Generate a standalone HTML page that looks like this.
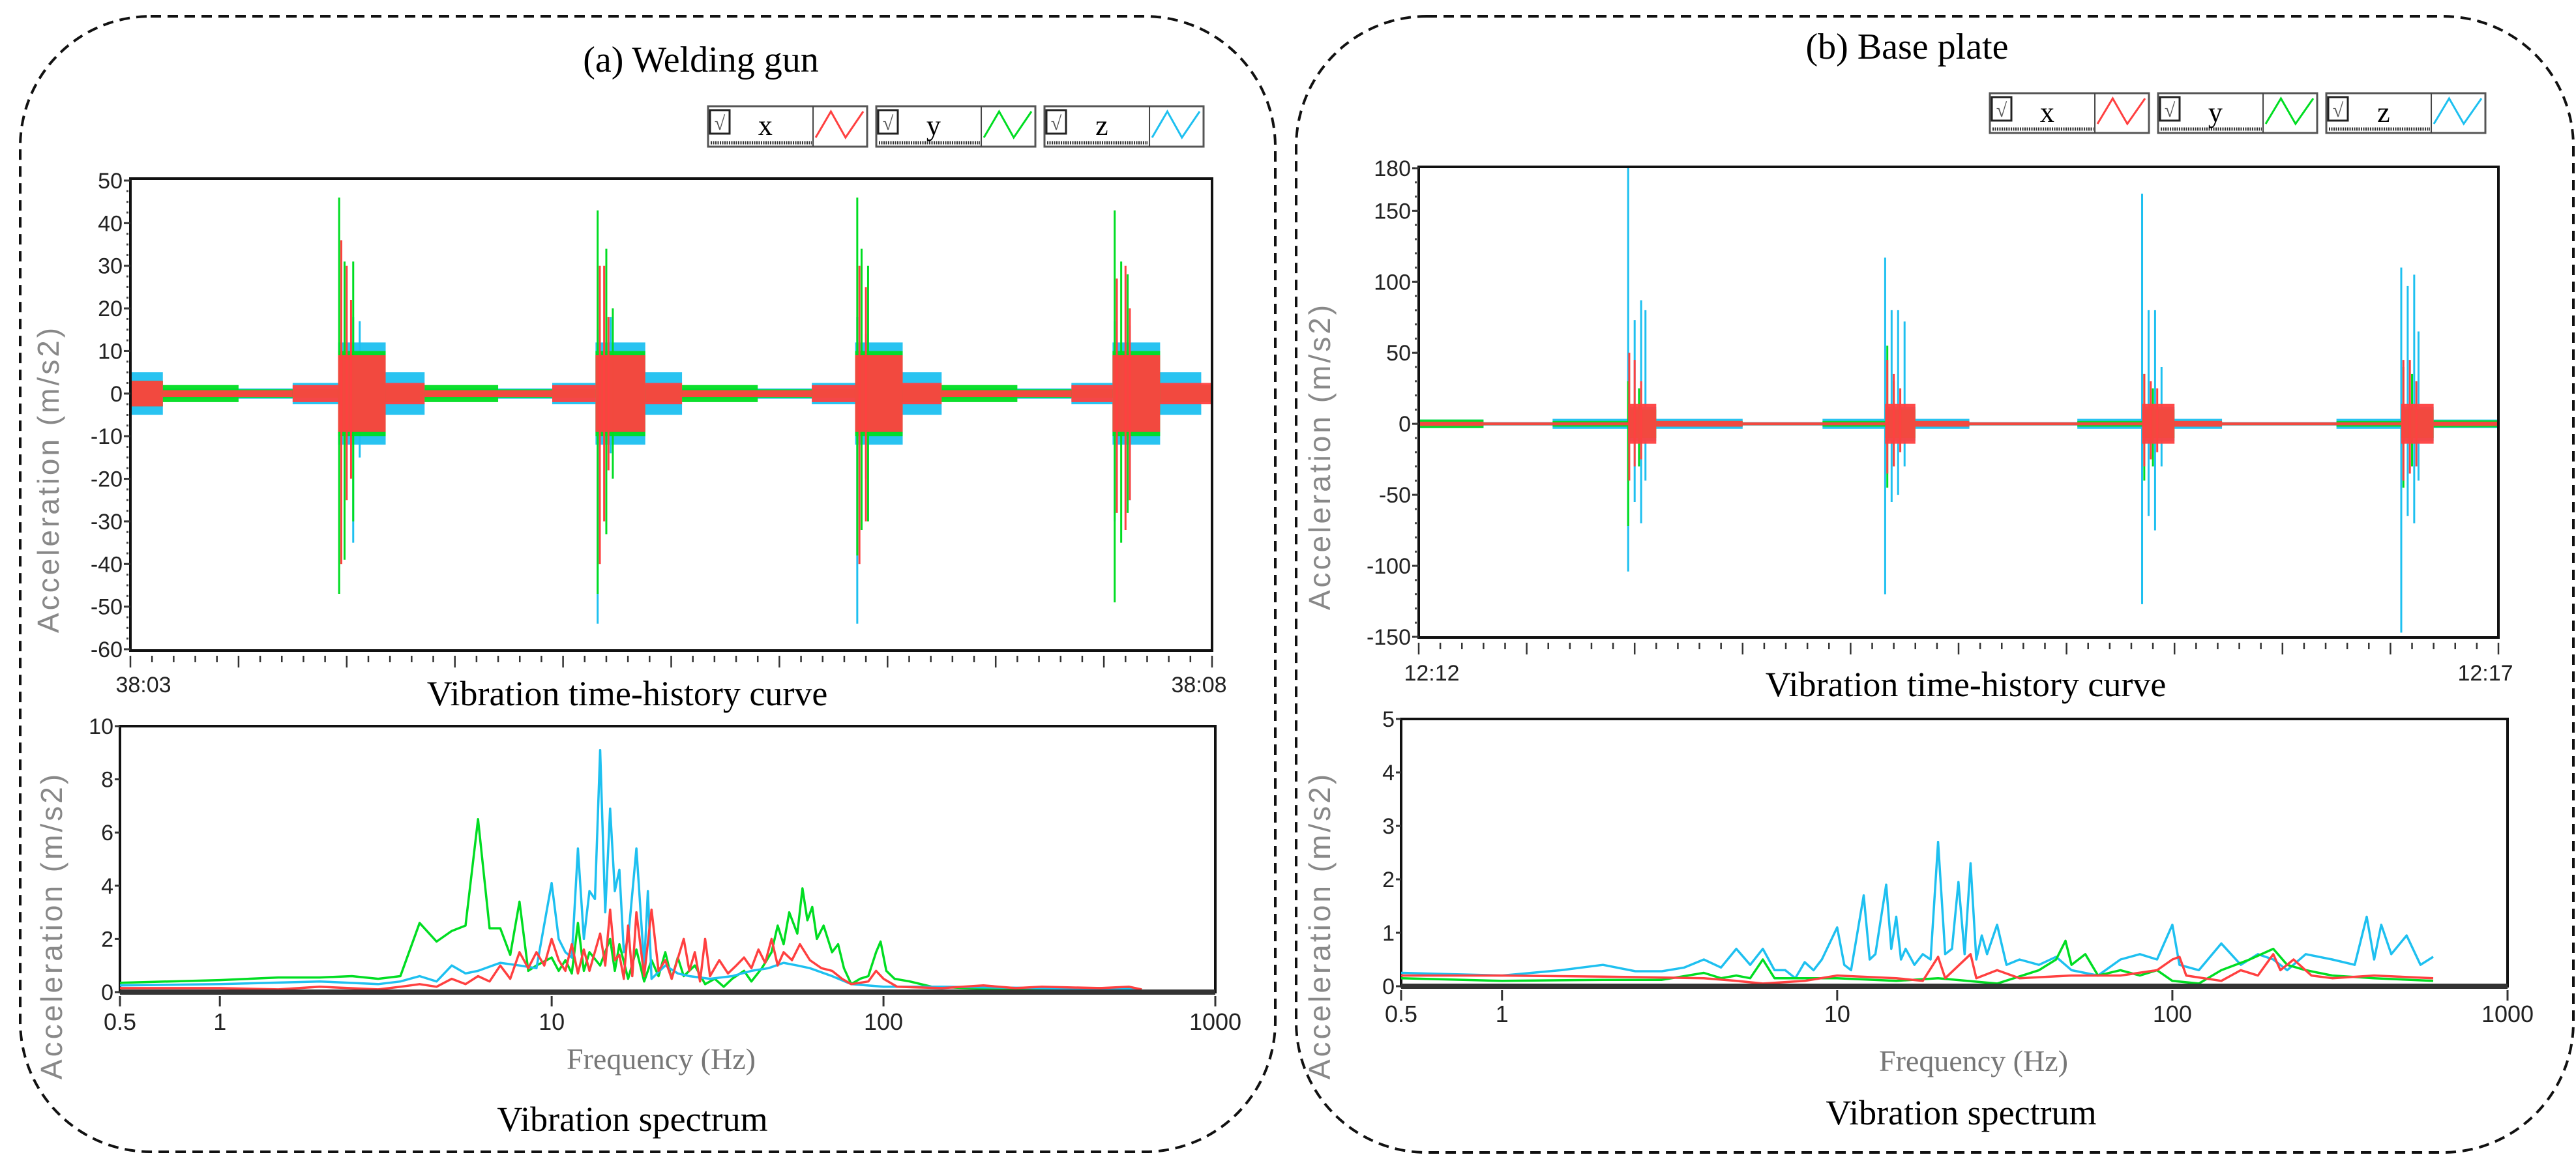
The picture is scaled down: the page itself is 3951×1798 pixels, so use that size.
<!DOCTYPE html>
<html><head><meta charset="utf-8">
<style>
html,body{margin:0;padding:0;background:#fff;}
svg{display:block;}
.serif{font-family:"Liberation Serif",serif;}
.narrow{font-family:"Liberation Sans Narrow","Liberation Sans",sans-serif;}
</style></head>
<body>
<svg id="fig" width="3951" height="1798" viewBox="0 0 3951 1798" xmlns="http://www.w3.org/2000/svg">
  <rect x="0" y="0" width="3951" height="1798" fill="#fff"/>
  <rect x="31" y="25" width="1925" height="1742" rx="200" ry="200" fill="none" stroke="#111" stroke-width="4" stroke-dasharray="16,10"/>
  <rect x="1988" y="25" width="1959" height="1743" rx="200" ry="200" fill="none" stroke="#111" stroke-width="4" stroke-dasharray="16,10"/>
  <text class="serif" x="1075" y="110" font-size="56" text-anchor="middle" fill="#000">(a) Welding gun</text>
  <text class="serif" x="2925" y="90" font-size="56" text-anchor="middle" fill="#000">(b) Base plate</text>
  <g id="layer"></g>
</svg>
<script>
// ---------- DATA ----------
const aTimeDomain = [0, 5];
const aTimeTicks = [50, 40, 30, 20, 10, 0, -10, -20, -30, -40, -50, -60];
const aTimeLabels = ["38:03", "38:08"];
const aZSeg = [[0,0.15,5],[0.15,0.75,1.2],[0.75,0.96,2.5],[0.96,1.18,12],[1.18,1.36,5],[1.36,1.95,1.2],[1.95,2.15,2.5],[2.15,2.38,12],[2.38,2.55,5],[2.55,3.15,1.2],[3.15,3.35,2.5],[3.35,3.57,12],[3.57,3.75,5],[3.75,4.35,1.2],[4.35,4.54,2.5],[4.54,4.76,12],[4.76,4.95,5],[4.95,5,1]];
const aYSeg = [[0,0.15,3],[0.15,0.5,2],[0.5,0.96,1],[0.96,1.18,10],[1.18,1.36,2],[1.36,1.7,2],[1.7,2.15,1],[2.15,2.38,10],[2.38,2.55,2],[2.55,2.9,2],[2.9,3.35,1],[3.35,3.57,10],[3.57,3.75,2],[3.75,4.1,2],[4.1,4.54,1],[4.54,4.76,10],[4.76,5,2]];
const aXSeg = [[0,0.15,3],[0.15,0.75,0.8],[0.75,0.96,2],[0.96,1.18,9],[1.18,1.36,2.5],[1.36,1.95,0.8],[1.95,2.15,2],[2.15,2.38,9],[2.38,2.55,2.5],[2.55,3.15,0.8],[3.15,3.35,2],[3.35,3.57,9],[3.57,3.75,2.5],[3.75,4.35,0.8],[4.35,4.54,2],[4.54,4.76,9],[4.76,5,2.5]];
const aZSpikeT = [1.03,1.06,2.16,2.22,3.36,3.40,4.55,4.62];
const aZSpikeHi = [18,17,15,18,18,14,17,16];
const aZSpikeLo = [-35,-15,-54,-14,-54,-20,-30,-25];
const aYSpikeT = [0.965,0.99,1.03,2.16,2.2,2.23,3.36,3.38,3.41,4.55,4.58,4.61];
const aYSpikeHi = [46,31,31,43,34,20,46,34,30,43,31,28];
const aYSpikeLo = [-47,-39,-30,-47,-33,-20,-38,-32,-30,-49,-35,-28];
const aXSpikeT = [0.975,1.0,1.02,2.17,2.19,2.21,3.37,3.40,4.56,4.6,4.62];
const aXSpikeHi = [36,30,22,30,30,18,30,25,27,30,20];
const aXSpikeLo = [-40,-25,-20,-40,-30,-18,-40,-30,-28,-32,-25];

const bTimeDomain = [0, 5];
const bTimeTicks = [180, 150, 100, 50, 0, -50, -100, -150];
const bTimeLabels = ["12:12", "12:17"];
const bZSeg = [[0,0.3,3],[0.3,0.62,1.2],[0.62,0.97,3.5],[0.97,1.1,12],[1.1,1.5,3.5],[1.5,1.87,1.2],[1.87,2.16,3.5],[2.16,2.3,12],[2.3,2.55,3.5],[2.55,3.05,1.2],[3.05,3.35,3.5],[3.35,3.5,12],[3.5,3.72,3.5],[3.72,4.25,1.2],[4.25,4.55,3.5],[4.55,4.7,12],[4.7,5,3]];
const bYSeg = [[0,0.3,3],[0.3,0.62,1],[0.62,0.97,2],[0.97,1.1,10],[1.1,1.5,2],[1.5,1.87,1],[1.87,2.16,2],[2.16,2.3,10],[2.3,2.55,2],[2.55,3.05,1],[3.05,3.35,2],[3.35,3.5,10],[3.5,3.72,2],[3.72,4.25,1],[4.25,4.55,2],[4.55,4.7,10],[4.7,5,2.5]];
const bXSeg = [[0,0.3,1.5],[0.3,0.97,1],[0.97,1.1,14],[1.1,1.5,2],[1.5,2.16,1],[2.16,2.3,14],[2.3,2.55,2],[2.55,3.35,1],[3.35,3.5,14],[3.5,3.72,2],[3.72,4.55,1],[4.55,4.7,14],[4.7,5,1.5]];
const bZSpikeT = [0.97,1.0,1.03,1.05,2.16,2.19,2.22,2.25,3.35,3.38,3.41,3.44,4.55,4.58,4.61,4.63];
const bZSpikeHi = [180,73,87,80,117,80,80,72,162,80,80,40,110,97,105,65];
const bZSpikeLo = [-104,-55,-70,-40,-120,-55,-50,-30,-127,-65,-75,-30,-147,-65,-70,-40];
const bYSpikeT = [0.97,1.02,2.17,2.2,3.36,3.4,4.56,4.6];
const bYSpikeHi = [30,25,55,30,35,25,40,35];
const bYSpikeLo = [-72,-30,-45,-30,-40,-30,-45,-30];
const bXSpikeT = [0.975,1.0,1.03,2.17,2.2,2.23,3.36,3.39,3.42,4.56,4.59,4.62];
const bXSpikeHi = [50,45,30,45,35,25,35,30,25,45,45,30];
const bXSpikeLo = [-40,-30,-25,-35,-30,-20,-30,-25,-20,-40,-35,-30];

const aSpecTicksY = [0, 2, 4, 6, 8, 10];
const specTicksX = [0.5, 1, 10, 100, 1000];
const specTickLabels = ["0.5", "1", "10", "100", "1000"];
const aGreenF = [0.5,1,1.5,2,2.5,3,3.5,4,4.5,5,5.5,6,6.5,7,7.5,8,8.5,9,10,10.5,11,11.5,12,12.5,13,14,15,15.5,16,17,18,19,20,21,22,23,24,25,27,29,31,33,35,38,40,43,46,48,50,52,55,57,59,61,63,66,70,73,76,80,85,90,95,98,102,108,120,140,180,250,350,450,600];
const aGreenV = [0.35,0.45,0.55,0.55,0.6,0.5,0.6,2.6,1.9,2.3,2.5,6.5,2.4,2.4,1.4,3.4,0.8,1.0,1.3,0.8,1.2,0.7,2.6,0.8,1.5,1.0,2.0,0.8,1.8,0.5,1.6,0.4,1.2,0.6,1.5,0.5,1.3,0.6,1.0,0.3,0.5,0.2,0.5,0.8,0.4,0.9,1.5,2.5,1.8,3.0,2.2,3.9,2.7,3.2,2.0,2.5,1.5,1.8,0.9,0.3,0.5,0.6,1.5,1.9,0.8,0.5,0.4,0.2,0.15,0.1,0.1,0.15,0.1];
const aBlueF = [0.5,1,2,3,3.5,4,4.5,5,5.5,6,7,8,9,10,10.5,11,11.5,12,12.5,13,13.5,14,14.5,15,15.5,16,16.5,17,18,19,19.5,20,22,24,26,30,35,40,45,50,55,60,70,80,100,150,300,600];
const aBlueV = [0.25,0.3,0.4,0.3,0.4,0.6,0.4,1.0,0.7,0.8,1.1,1.0,0.9,4.1,2.0,1.5,1.3,5.4,2.0,3.8,3.5,9.1,3.0,6.9,3.8,4.6,1.5,2.0,5.4,1.0,3.8,0.5,1.0,0.7,0.6,0.5,0.6,0.8,0.9,1.1,1.0,0.9,0.6,0.3,0.2,0.2,0.15,0.1];
const aRedF = [0.5,1,1.5,2,3,3.5,4,4.5,5,5.5,6,6.5,7,7.5,8,8.5,9,9.5,10,10.5,11,11.5,12,12.5,13,14,14.5,15,15.5,16,16.5,17,17.5,18,19,20,21,22,23,25,26,27,28,29,30,32,34,36,38,40,42,44,46,48,50,53,56,60,65,70,75,80,90,95,100,110,150,200,250,300,450,550,600];
const aRedV = [0.15,0.15,0.1,0.2,0.1,0.2,0.3,0.2,0.5,0.3,0.6,0.4,1.0,0.5,1.5,0.9,1.5,1.0,2.0,1.2,0.8,1.8,0.7,1.6,0.8,2.2,1.0,3.1,1.2,1.4,0.5,2.5,0.6,3.0,0.6,3.1,0.8,1.2,0.5,2.0,0.8,1.5,0.4,2.0,0.6,1.2,0.7,1.0,1.3,0.9,1.6,1.1,2.0,1.0,1.5,1.2,1.8,1.2,0.9,0.8,0.5,0.3,0.4,0.8,0.5,0.2,0.15,0.25,0.15,0.2,0.15,0.2,0.1];

const bSpecTicksY = [0, 1, 2, 3, 4, 5];
const bBlueF = [0.5,1,1.5,2,2.5,3,3.5,4,4.5,5,5.5,6,6.5,7,7.5,8,8.5,9,10,10.5,11,12,12.5,13,14,14.5,15,15.5,16,17,18,19,20,21,22,23,24,25,26,27,28,30,32,35,40,45,50,60,70,80,90,100,105,120,140,160,180,200,220,250,300,350,380,400,420,450,500,550,600];
const bBlueV = [0.25,0.2,0.3,0.4,0.28,0.28,0.35,0.5,0.35,0.7,0.4,0.7,0.3,0.3,0.15,0.45,0.3,0.5,1.1,0.4,0.3,1.7,0.5,0.6,1.9,0.7,1.3,0.5,0.7,0.4,0.6,0.5,2.7,0.6,0.7,1.95,0.6,2.3,0.5,0.95,0.6,1.15,0.4,0.5,0.4,0.55,0.3,0.2,0.5,0.6,0.5,1.15,0.4,0.3,0.8,0.4,0.6,0.5,0.3,0.6,0.5,0.4,1.3,0.5,1.15,0.6,0.95,0.4,0.55];
const bGreenF = [0.5,1,2,3,4,4.5,5,5.5,6,6.5,8,10,15,20,30,40,45,48,50,55,60,70,80,90,100,120,140,170,200,220,250,300,400,600];
const bGreenV = [0.15,0.1,0.12,0.12,0.25,0.15,0.2,0.15,0.5,0.15,0.15,0.15,0.1,0.15,0.05,0.3,0.5,0.85,0.4,0.6,0.2,0.3,0.2,0.3,0.1,0.05,0.3,0.5,0.7,0.4,0.3,0.2,0.15,0.1];
const bRedF = [0.5,1,2,4,5,6,8,10,15,18,20,21,25,26,30,35,50,70,90,100,105,110,140,160,180,200,210,230,260,300,400,600];
const bRedV = [0.2,0.2,0.18,0.15,0.1,0.05,0.1,0.2,0.15,0.1,0.55,0.15,0.6,0.15,0.3,0.15,0.2,0.2,0.3,0.5,0.55,0.2,0.1,0.3,0.2,0.6,0.3,0.5,0.2,0.15,0.2,0.15];

// ---------- DRAWING ----------
const NS = "http://www.w3.org/2000/svg";
const layer = document.getElementById('layer');
function mk(tag, attrs, parent) {
  const e = document.createElementNS(NS, tag);
  for (const k in attrs) e.setAttribute(k, attrs[k]);
  (parent || layer).appendChild(e);
  return e;
}
const RED = "#ff4040", GREEN = "#00dd22", BLUE = "#1ec0f0";

function linScale(d0, d1, r0, r1) { return v => r0 + (v - d0) / (d1 - d0) * (r1 - r0); }
function logScale(d0, d1, r0, r1) { return v => r0 + (Math.log10(v) - Math.log10(d0)) / (Math.log10(d1) - Math.log10(d0)) * (r1 - r0); }

function yLabel(x, y, size) {
  const t = mk('text', {x: x, y: y, 'font-size': size, fill: '#888', 'font-family': '"Liberation Sans",sans-serif', 'letter-spacing': '4', transform: `rotate(-90 ${x} ${y})`, 'text-anchor': 'middle'});
  
  
  t.textContent = "Acceleration    (m/s2)";
}

function timeChart(cfg) {
  const g = mk('g', {});
  
  
  const sx = linScale(cfg.domain[0], cfg.domain[1], cfg.left, cfg.right);
  const sy = linScale(cfg.ymin, cfg.ymax, cfg.yminPx, cfg.ymaxPx);
  const plot = mk('g', {}, g);
  
  
  const series = [[cfg.zSeg, cfg.zT, cfg.zHi, cfg.zLo, BLUE, 'series-z'], [cfg.ySeg, cfg.yT, cfg.yHi, cfg.yLo, GREEN, 'series-y'], [cfg.xSeg, cfg.xT, cfg.xHi, cfg.xLo, RED, 'series-x']];
  series.forEach(s => {
    const sg = mk('g', {}, plot);
    
    
    s[0].forEach(seg => {
      const r = mk('rect', {x: sx(seg[0]), width: Math.max(1, sx(seg[1]) - sx(seg[0])), y: sy(seg[2]), height: sy(-seg[2]) - sy(seg[2]), fill: s[4], opacity: 0.95}, sg);
      
      
    });
    s[1].forEach((t, i) => {
      const l = mk('line', {x1: sx(t), x2: sx(t), y1: sy(s[2][i]), y2: sy(s[3][i]), stroke: s[4], 'stroke-width': 3}, sg);
      
      
    });
  });
  const fr = mk('rect', {x: cfg.left, y: cfg.frameTop, width: cfg.right - cfg.left, height: cfg.frameBot - cfg.frameTop, fill: 'none', stroke: '#111', 'stroke-width': 4}, g);
  
  
  const yt = mk('g', {}, g);
  
  
  cfg.ticks.forEach(v => {
    mk('line', {x1: cfg.left - 10, x2: cfg.left, y1: sy(v), y2: sy(v), stroke: '#333', 'stroke-width': 3}, yt);
    const t = mk('text', {x: cfg.left - 12, y: sy(v) + 12, 'font-size': 34, 'text-anchor': 'end', fill: '#222', class: 'narrow'}, yt);
    
    
    t.textContent = String(v);
  });
  for (let v = cfg.ymin; v <= cfg.ymax; v += cfg.minor) {
    mk('rect', {x: cfg.left - 6, y: sy(v) - 1.5, width: 3, height: 3, fill: '#444'}, yt);
  }
  const xt = mk('g', {}, g);
  
  
  for (let i = 0; i <= 50; i++) {
    const x = cfg.left + (cfg.right - cfg.left) * i / 50;
    mk('line', {x1: x, x2: x, y1: cfg.frameBot + 8, y2: cfg.frameBot + (i % 5 === 0 ? 26 : 18), stroke: '#333', 'stroke-width': 2.5}, xt);
  }
  [[cfg.left + 20, cfg.labels[0]], [cfg.right - 20, cfg.labels[1]]].forEach(p => {
    const t = mk('text', {x: p[0], y: cfg.labelY, 'font-size': 34, 'text-anchor': 'middle', fill: '#222', class: 'narrow'}, xt);
    
    
    t.textContent = p[1];
  });
  const ct = mk('text', {x: cfg.captionX, y: cfg.captionY, 'font-size': 54, 'text-anchor': 'middle', class: 'serif', fill: '#000'}, g);
  
  
  ct.textContent = "Vibration time-history curve";
}

function specChart(cfg) {
  const g = mk('g', {});
  
  
  const sx = logScale(0.5, 1000, cfg.left, cfg.right);
  const sy = linScale(0, cfg.ymax, cfg.zero, cfg.top);
  const fr = mk('rect', {x: cfg.left, y: cfg.top, width: cfg.right - cfg.left, height: cfg.zero - cfg.top, fill: 'none', stroke: '#111', 'stroke-width': 4}, g);
  
  
  cfg.series.forEach(s => {
    const pts = s[0].map((f, i) => sx(f).toFixed(1) + ',' + sy(s[1][i]).toFixed(1)).join(' ');
    const p = mk('polyline', {points: pts, fill: 'none', stroke: s[2], 'stroke-width': 3.5, 'stroke-linejoin': 'round'}, g);
    
    
  });
  mk('line', {x1: cfg.left, x2: cfg.right, y1: cfg.zero, y2: cfg.zero, stroke: '#333', 'stroke-width': 8}, g);
  cfg.yticks.forEach(v => {
    mk('line', {x1: cfg.left - 8, x2: cfg.left, y1: sy(v), y2: sy(v), stroke: '#333', 'stroke-width': 3}, g);
    const t = mk('text', {x: cfg.left - 10, y: sy(v) + 12, 'font-size': 34, 'text-anchor': 'end', fill: '#222', class: 'narrow'}, g);
    
    
    t.textContent = v;
  });
  specTicksX.forEach((f, i) => {
    mk('line', {x1: sx(f), x2: sx(f), y1: cfg.zero + 6, y2: cfg.zero + 22, stroke: '#333', 'stroke-width': 3}, g);
    const t = mk('text', {x: sx(f), y: cfg.labelY, 'font-size': 36, 'text-anchor': 'middle', fill: '#222', class: 'narrow'}, g);
    
    
    t.textContent = specTickLabels[i];
  });
  const xt = mk('text', {x: cfg.freqX, y: cfg.freqY, 'font-size': 46, 'text-anchor': 'middle', fill: '#777', class: 'serif'}, g);
  
  
  xt.textContent = "Frequency (Hz)";
  const ct = mk('text', {x: cfg.capX, y: cfg.capY, 'font-size': 54, 'text-anchor': 'middle', class: 'serif', fill: '#000'}, g);
  
  
  ct.textContent = "Vibration spectrum";
}

function legend(x0, y0, w, h, gap) {
  const items = [["x", RED], ["y", GREEN], ["z", BLUE]];
  items.forEach((it, i) => {
    const x = x0 + i * (w + gap);
    const g = mk('g', {});
    
    
    mk('rect', {x: x, y: y0, width: w, height: h, fill: '#fff', stroke: '#555', 'stroke-width': 3}, g);
    const dv = x + w * 0.66;
    mk('line', {x1: dv, x2: dv, y1: y0, y2: y0 + h, stroke: '#444', 'stroke-width': 2}, g);
    mk('line', {x1: x + 4, x2: dv - 2, y1: y0 + h - 6, y2: y0 + h - 6, stroke: '#333', 'stroke-width': 5, 'stroke-dasharray': '2,1.5'}, g);
    const cb = mk('rect', {x: x + 3, y: y0 + 6, width: 30, height: 36, fill: '#fff', stroke: '#222', 'stroke-width': 3}, g);
    
    
    const ck = mk('text', {x: x + 18, y: y0 + 36, 'font-size': 30, 'text-anchor': 'middle', fill: '#555', class: 'serif'}, g);
    ck.textContent = "√";
    const lt = mk('text', {x: x + w * 0.36, y: y0 + 44, 'font-size': 44, 'text-anchor': 'middle', fill: '#000', class: 'serif'}, g);
    
    
    lt.textContent = it[0];
    const iw = w - (dv - x);
    mk('polyline', {points: `${dv + 4},${y0 + h - 14} ${dv + iw * 0.33},${y0 + 8} ${dv + iw * 0.6},${y0 + h - 14} ${x + w - 6},${y0 + 8}`, fill: 'none', stroke: it[1], 'stroke-width': 3}, g);
  });
}

legend(1086, 163, 244, 62, 14);
timeChart({name: 'time-history-chart-a', domain: aTimeDomain, left: 200, right: 1859, ymin: -60, ymax: 50, yminPx: 996, ymaxPx: 277, frameTop: 274, frameBot: 998, ticks: aTimeTicks, minor: 2.5, labels: aTimeLabels, labelY: 1062, captionX: 962, captionY: 1082,
  zSeg: aZSeg, ySeg: aYSeg, xSeg: aXSeg, zT: aZSpikeT, zHi: aZSpikeHi, zLo: aZSpikeLo, yT: aYSpikeT, yHi: aYSpikeHi, yLo: aYSpikeLo, xT: aXSpikeT, xHi: aXSpikeHi, xLo: aXSpikeLo});
yLabel(90, 735, 46);
specChart({name: 'spectrum-chart-a', left: 184, right: 1864, top: 1114, zero: 1522, ymax: 10, yticks: aSpecTicksY, labelY: 1580, freqX: 1014, freqY: 1640, capX: 970, capY: 1735,
  series: [[aGreenF, aGreenV, GREEN, 'series-y'], [aBlueF, aBlueV, BLUE, 'series-z'], [aRedF, aRedV, RED, 'series-x']]});
yLabel(95, 1420, 46);

legend(3052, 143, 244, 61, 14);
timeChart({name: 'time-history-chart-b', domain: bTimeDomain, left: 2176, right: 3832, ymin: -150, ymax: 180, yminPx: 977, ymaxPx: 258, frameTop: 256, frameBot: 978, ticks: bTimeTicks, minor: 10, labels: bTimeLabels, labelY: 1044, captionX: 3015, captionY: 1068,
  zSeg: bZSeg, ySeg: bYSeg, xSeg: bXSeg, zT: bZSpikeT, zHi: bZSpikeHi, zLo: bZSpikeLo, yT: bYSpikeT, yHi: bYSpikeHi, yLo: bYSpikeLo, xT: bXSpikeT, xHi: bXSpikeHi, xLo: bXSpikeLo});
yLabel(2040, 700, 46);
specChart({name: 'spectrum-chart-b', left: 2149, right: 3846, top: 1103, zero: 1513, ymax: 5, yticks: bSpecTicksY, labelY: 1568, freqX: 3027, freqY: 1643, capX: 3008, capY: 1725,
  series: [[bBlueF, bBlueV, BLUE, 'series-z'], [bGreenF, bGreenV, GREEN, 'series-y'], [bRedF, bRedV, RED, 'series-x']]});
yLabel(2040, 1420, 46);
</script>
</body></html>
